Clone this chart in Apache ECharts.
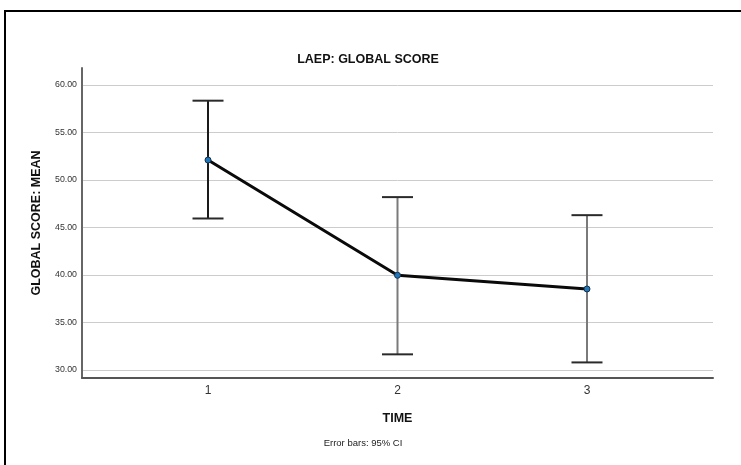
<!DOCTYPE html>
<html>
<head>
<meta charset="utf-8">
<script src="https://cdn.jsdelivr.net/npm/echarts@6/dist/echarts.min.js"></script>
<style>
  html, body { margin: 0; padding: 0; background: #fff; }
  #chart { width: 741px; height: 465px; }
</style>
</head>
<body>
<div id="chart"></div>
<script>
// ---- data ----
var categories = [1, 2, 3];
var means = [52.1, 39.97, 38.53];
var ciLower = [45.95, 31.65, 30.8];
var ciUpper = [58.35, 48.2, 46.3];
var yTicks = [30, 35, 40, 45, 50, 55, 60];
var titleText = 'LAEP: GLOBAL SCORE';
var xName = 'TIME';
var yName = 'GLOBAL SCORE: MEAN';
var footnote = 'Error bars: 95% CI';

var FONT = '"Liberation Sans", Arial, sans-serif';

var lineData = categories.map(function (c, i) { return [c, means[i]]; });
var barData = categories.map(function (c, i) { return [c, ciLower[i], ciUpper[i]]; });

var chart = echarts.init(document.getElementById('chart'), null, { renderer: 'canvas' });

chart.setOption({
  backgroundColor: '#ffffff',
  animation: false,
  grid: { left: 82, right: 28, top: 68, bottom: 87 },
  xAxis: {
    type: 'value',
    min: 0.335,
    max: 3.665,
    name: xName,
    nameLocation: 'middle',
    nameGap: 34,
    nameTextStyle: { fontFamily: FONT, fontWeight: 'bold', fontSize: 12.5, color: '#111' },
    axisLine: { show: true, onZero: false, lineStyle: { color: '#555', width: 2 } },
    axisTick: { show: false, customValues: categories },
    axisLabel: { customValues: categories, fontFamily: FONT, fontSize: 12, color: '#333', margin: 7 },
    splitLine: { show: false }
  },
  yAxis: {
    type: 'value',
    min: 29.16,
    max: 61.79,
    name: yName,
    nameLocation: 'middle',
    nameGap: 39,
    nameTextStyle: { fontFamily: FONT, fontWeight: 'bold', fontSize: 12.5, color: '#111' },
    axisLine: { show: true, onZero: false, lineStyle: { color: '#666', width: 2 } },
    axisTick: { show: false, customValues: yTicks },
    axisLabel: {
      customValues: yTicks,
      fontFamily: FONT, fontSize: 8.8, color: '#333', margin: 5,
      formatter: function (v) { return Number(v).toFixed(2); }
    },
    splitLine: { show: true, lineStyle: { color: '#cccccc', width: 1 } }
  },
  graphic: [
    {
      type: 'rect', silent: true, z: 100,
      shape: { x: 5, y: 11, width: 780, height: 500 },
      style: { fill: 'none', stroke: '#000', lineWidth: 2 }
    },
    {
      type: 'text', x: 368, y: 60,
      style: { text: titleText, font: 'bold 12.5px ' + FONT, fill: '#111', textAlign: 'center', textVerticalAlign: 'middle' }
    },
    {
      type: 'text', x: 363, y: 443,
      style: { text: footnote, font: '9.5px ' + FONT, fill: '#222', textAlign: 'center', textVerticalAlign: 'middle' }
    }
  ],
  series: [
    {
      type: 'custom',
      z: 1,
      data: barData,
      renderItem: function (params, api) {
        var x = api.value(0);
        var lo = api.coord([x, api.value(1)]);
        var hi = api.coord([x, api.value(2)]);
        var half = 15.5;
        var stemColor = params.dataIndex === 0 ? '#1a1a1a' : '#7a7a7a';
        return {
          type: 'group',
          children: [
            { type: 'line', shape: { x1: hi[0], y1: hi[1], x2: lo[0], y2: lo[1] }, style: { stroke: stemColor, lineWidth: 2 } },
            { type: 'line', shape: { x1: hi[0] - half, y1: hi[1], x2: hi[0] + half, y2: hi[1] }, style: { stroke: '#2a2a2a', lineWidth: 2 } },
            { type: 'line', shape: { x1: lo[0] - half, y1: lo[1], x2: lo[0] + half, y2: lo[1] }, style: { stroke: '#2a2a2a', lineWidth: 2 } }
          ]
        };
      }
    },
    {
      type: 'line',
      z: 3,
      data: lineData,
      symbol: 'circle',
      symbolSize: 6,
      lineStyle: { color: '#0a0a0a', width: 3 },
      itemStyle: { color: '#2277b8', borderColor: '#16324d', borderWidth: 1 }
    }
  ]
});
</script>
</body>
</html>
